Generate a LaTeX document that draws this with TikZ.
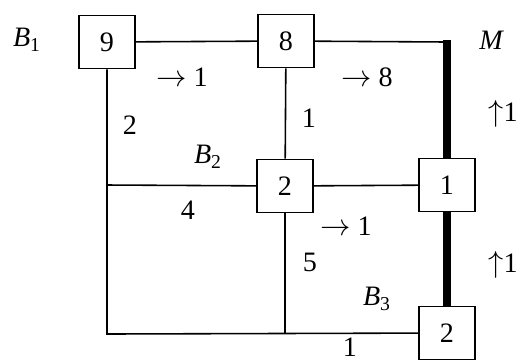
\documentclass[tikz,border=0pt]{standalone}
\usepackage{fontspec}
\setmainfont{Liberation Serif}
\tikzset{
  cell/.style={draw, line width=0.9pt, fill=white, minimum width=1.12cm, minimum height=1.06cm, inner sep=0pt},
  wire/.style={line width=0.9pt},
  heavy/.style={line width=4pt}
}
\newcommand{\blab}[1]{{\itshape B}\textsubscript{#1}}
\begin{document}
\begin{tikzpicture}[x=0.02cm,y=-0.02cm,font=\fontsize{16}{19}\selectfont]
\useasboundingbox (0,0) rectangle (520,360);
% corners of the grid
\coordinate (tr) at (447,42);
\coordinate (ml) at (107,185);
\coordinate (bl) at (107,334);
\coordinate (bm) at (285,334);
% boxes
\node[cell] (n9) at (107,42) {9};
\node[cell] (n8) at (286,41) {8};
\node[cell] (c2) at (285,186) {2};
\node[cell] (n1) at (447,185) {1};
\node[cell] (d2) at (447,333) {2};
% lines
\draw[wire] (n9) -- (n8);
\draw[wire] (n8) -- (tr);
\draw[heavy] ([yshift=1pt]tr) -- (n1.north);
\draw[heavy] (n1) -- (d2);
\draw[wire] (n9) -- (ml) -- (bl) -- (d2);
\draw[wire] (ml) -- (c2) -- (n1);
\draw[wire] (n8) -- (c2);
\draw[wire] (c2) -- (bm);
% labels
\node (lb1) at (27,40) {\blab{1}};
\node (lm) at (491,40) {\itshape M};
\node (lb2) at (208,157) {\blab{2}};
\node (lb3) at (377,299) {\blab{3}};
\node (f1) at (182,77) {$\rightarrow$ 1};
\node (f8) at (367,77) {$\rightarrow$ 8};
\node (f3) at (346,226) {$\rightarrow$ 1};
\node (u1) at (503,114) {$\uparrow$1};
\node (u2) at (503,265) {$\uparrow$1};
\node (w2) at (130,125) {2};
\node (w1) at (309,118) {1};
\node (w4) at (188,210) {4};
\node (w5) at (310,262) {5};
\node[inner sep=0pt] (w1b) at (350,347) {1};
\end{tikzpicture}
\end{document}
